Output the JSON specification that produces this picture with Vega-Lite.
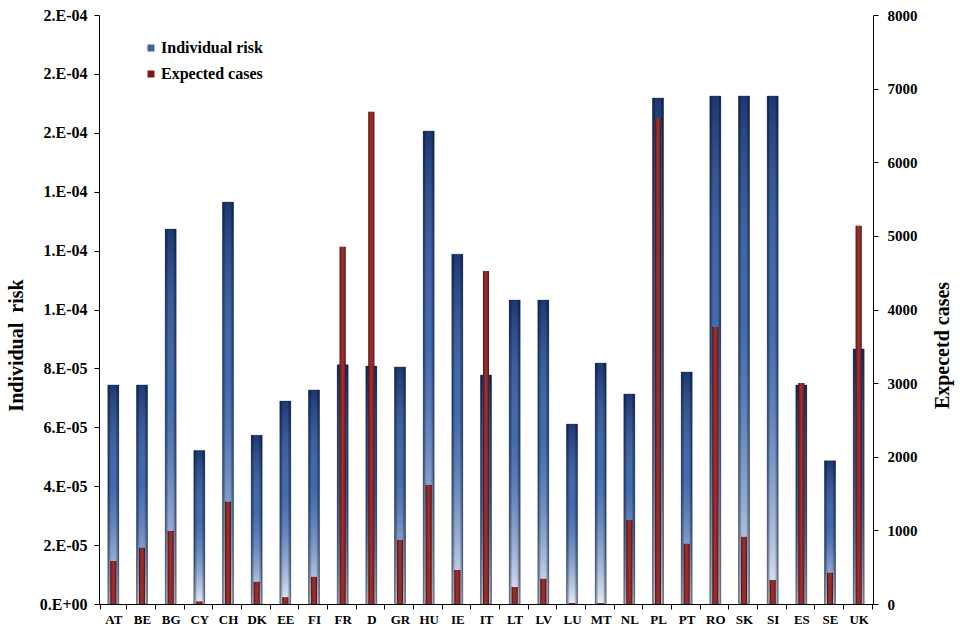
{
  "$schema": "https://vega.github.io/schema/vega-lite/v6.json",
  "width": 774,
  "height": 589,
  "autosize": {"type": "none"},
  "padding": {"left": 99, "top": 15, "right": 104, "bottom": 34},
  "background": "white",
  "config": {
    "view": {"stroke": null},
    "axis": {
      "grid": false,
      "domainColor": "black",
      "tickColor": "black",
      "labelColor": "black",
      "titleColor": "black",
      "labelFont": "Liberation Serif",
      "labelFontWeight": "bold",
      "titleFont": "Liberation Serif",
      "titleFontWeight": "bold",
      "tickSize": 5
    }
  },
  "data": {
    "values": [
      {"country": "AT", "risk": 0.0000744, "cases": 584},
      {"country": "BE", "risk": 0.0000744, "cases": 763},
      {"country": "BG", "risk": 0.0001273, "cases": 992},
      {"country": "CY", "risk": 0.0000521, "cases": 35},
      {"country": "CH", "risk": 0.0001365, "cases": 1388},
      {"country": "DK", "risk": 0.0000573, "cases": 301},
      {"country": "EE", "risk": 0.0000689, "cases": 92},
      {"country": "FI", "risk": 0.0000727, "cases": 368},
      {"country": "FR", "risk": 0.0000812, "cases": 4851},
      {"country": "D", "risk": 0.0000808, "cases": 6685},
      {"country": "GR", "risk": 0.0000805, "cases": 870},
      {"country": "HU", "risk": 0.0001606, "cases": 1617},
      {"country": "IE", "risk": 0.0001188, "cases": 462},
      {"country": "IT", "risk": 0.0000778, "cases": 4524},
      {"country": "LT", "risk": 0.0001032, "cases": 231},
      {"country": "LV", "risk": 0.0001032, "cases": 342},
      {"country": "LU", "risk": 0.0000611, "cases": 14},
      {"country": "MT", "risk": 0.0000818, "cases": 14},
      {"country": "NL", "risk": 0.0000713, "cases": 1141},
      {"country": "PL", "risk": 0.0001718, "cases": 6603},
      {"country": "PT", "risk": 0.0000788, "cases": 817},
      {"country": "RO", "risk": 0.0001725, "cases": 3764},
      {"country": "SK", "risk": 0.0001725, "cases": 912},
      {"country": "SI", "risk": 0.0001725, "cases": 326},
      {"country": "ES", "risk": 0.0000744, "cases": 3003},
      {"country": "SE", "risk": 0.0000486, "cases": 423},
      {"country": "UK", "risk": 0.0000866, "cases": 5136}
    ]
  },
  "encoding": {
    "x": {
      "field": "country",
      "type": "nominal",
      "sort": null,
      "axis": {
        "title": null,
        "labelAngle": 0,
        "tickBand": "extent",
        "labelFontSize": 13,
        "labelPadding": 4
      }
    }
  },
  "layer": [
    {
      "encoding": {
        "y": {
          "field": "risk",
          "type": "quantitative",
          "scale": {"domain": [0, 0.0002], "nice": false},
          "axis": {
            "title": "Individual\u00a0 risk",
            "values": [0, 0.00002, 0.00004, 0.00006, 0.00008, 0.0001, 0.00012, 0.00014, 0.00016, 0.00018, 0.0002],
            "labelExpr": "['0.E+00','2.E-05','4.E-05','6.E-05','8.E-05','1.E-04','1.E-04','1.E-04','2.E-04','2.E-04','2.E-04'][round(datum.value/0.00002)]",
            "labelFontSize": 16,
            "labelPadding": 7,
            "titleFontSize": 20,
            "titleX": -73,
            "titleY": 330,
            "titleAlign": "center"
          }
        }
      },
      "layer": [
        {
          "mark": {"type": "bar", "width": 11},
          "encoding": {
            "color": {
              "datum": "Individual risk",
              "type": "nominal",
              "scale": {"domain": ["Individual risk", "Expected cases"], "range": ["#3a64a8", "#7d1515"]},
              "legend": {
                "title": null,
                "orient": "none",
                "legendX": 44,
                "legendY": 25,
                "symbolType": "square",
                "symbolSize": 49,
                "labelFont": "Liberation Serif",
                "labelFontWeight": "bold",
                "labelFontSize": 16,
                "labelColor": "black",
                "labelOffset": 2,
                "rowPadding": 10,
                "padding": 0
              }
            }
          }
        },
        {
          "mark": {
            "type": "bar",
            "width": 11,
            "fill": {
              "gradient": "linear", "x1": 0, "y1": 0, "x2": 0, "y2": 1,
              "stops": [
                {"offset": 0, "color": "rgba(5,20,70,0.55)"},
                {"offset": 0.45, "color": "rgba(120,150,200,0.15)"},
                {"offset": 1, "color": "rgba(255,255,255,0.88)"}
              ]
            }
          }
        },
        {
          "mark": {
            "type": "bar",
            "width": 11,
            "stroke": "#10254a",
            "strokeWidth": 0.6,
            "strokeOpacity": 0.5,
            "fill": {
              "gradient": "linear", "x1": 0, "y1": 0, "x2": 1, "y2": 0,
              "stops": [
                {"offset": 0, "color": "rgba(0,10,40,0.55)"},
                {"offset": 0.3, "color": "rgba(0,0,0,0)"},
                {"offset": 0.7, "color": "rgba(0,0,0,0)"},
                {"offset": 1, "color": "rgba(0,10,40,0.55)"}
              ]
            }
          }
        }
      ]
    },
    {
      "encoding": {
        "y": {
          "field": "cases",
          "type": "quantitative",
          "scale": {"domain": [0, 8000], "nice": false},
          "axis": {
            "orient": "right",
            "title": "Expecetd cases",
            "format": "d",
            "values": [0, 1000, 2000, 3000, 4000, 5000, 6000, 7000, 8000],
            "labelFontSize": 15,
            "labelPadding": 9,
            "titleFontSize": 20,
            "titleAngle": 270,
            "titleX": 79,
            "titleY": 330,
            "titleAlign": "center",
            "titleBaseline": "bottom"
          }
        }
      },
      "layer": [
        {
          "mark": {"type": "bar", "width": 6},
          "encoding": {
            "color": {"datum": "Expected cases", "type": "nominal"}
          }
        },
        {
          "mark": {
            "type": "bar",
            "width": 6,
            "fill": {
              "gradient": "linear", "x1": 0, "y1": 0, "x2": 1, "y2": 0,
              "stops": [
                {"offset": 0, "color": "rgba(40,0,0,0.5)"},
                {"offset": 0.5, "color": "rgba(255,140,140,0.22)"},
                {"offset": 1, "color": "rgba(40,0,0,0.5)"}
              ]
            }
          }
        }
      ]
    }
  ],
  "resolve": {"scale": {"y": "independent"}}
}
